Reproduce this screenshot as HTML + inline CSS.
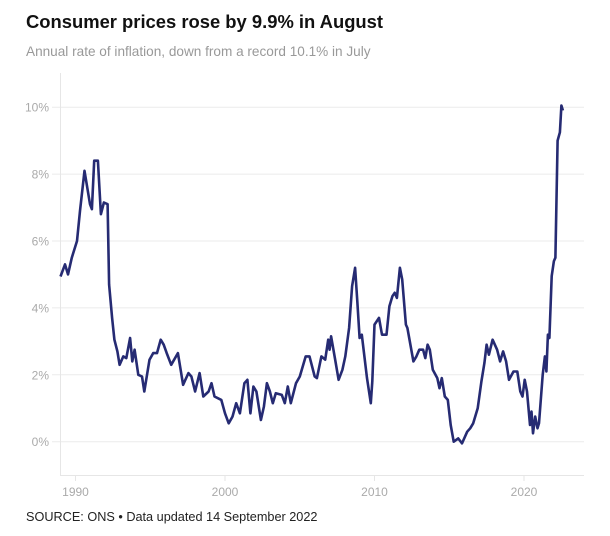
<!DOCTYPE html>
<html><head><meta charset="utf-8"><style>
body{margin:0;background:#fff;font-family:"Liberation Sans",sans-serif;}
#wrap{position:relative;width:610px;height:536px;overflow:hidden;}
</style></head><body>
<div id="wrap">
<svg id="chart" width="610" height="536">
<text x="26" y="28" font-size="18.4" font-weight="bold" fill="#111">Consumer prices rose by 9.9% in August</text>
<text x="26" y="56" font-size="13.6" fill="#999">Annual rate of inflation, down from a record 10.1% in July</text>
<g id="grid"></g>
<g id="xaxis"></g>
<path id="line" fill="none" stroke="#262b73" stroke-width="2.6" stroke-linejoin="round"/>
<text x="26" y="521" font-size="12.7" fill="#222">SOURCE: ONS • Data updated 14 September 2022</text>
</svg>
</div>
<script>
const yTicks = [0,2,4,6,8,10];
const xTicks = [1990,2000,2010,2020];
const years = [1989.0,1989.3,1989.5,1989.75,1990.1,1990.3,1990.6,1990.97,1991.1,1991.25,1991.5,1991.7,1991.9,1992.15,1992.25,1992.45,1992.6,1992.8,1992.95,1993.2,1993.4,1993.65,1993.8,1993.95,1994.2,1994.45,1994.6,1994.95,1995.2,1995.45,1995.7,1995.9,1996.1,1996.4,1996.85,1997.2,1997.55,1997.75,1998.0,1998.3,1998.55,1998.9,1999.1,1999.3,1999.75,2000.0,2000.25,2000.5,2000.75,2001.0,2001.3,2001.5,2001.7,2001.9,2002.1,2002.4,2002.6,2002.8,2003.0,2003.2,2003.4,2003.8,2004.0,2004.2,2004.4,2004.75,2005.0,2005.4,2005.65,2006.0,2006.15,2006.45,2006.7,2006.9,2007.0,2007.1,2007.35,2007.6,2007.85,2008.05,2008.3,2008.5,2008.7,2008.85,2009.0,2009.15,2009.5,2009.75,2009.85,2010.0,2010.3,2010.5,2010.8,2011.0,2011.2,2011.35,2011.5,2011.7,2011.85,2012.1,2012.2,2012.6,2012.8,2013.0,2013.25,2013.4,2013.55,2013.7,2013.9,2014.2,2014.35,2014.5,2014.7,2014.9,2015.1,2015.3,2015.6,2015.85,2016.2,2016.4,2016.6,2016.9,2017.15,2017.35,2017.5,2017.65,2017.9,2018.2,2018.4,2018.6,2018.8,2019.0,2019.3,2019.55,2019.75,2019.9,2020.05,2020.2,2020.4,2020.5,2020.6,2020.75,2020.9,2021.0,2021.25,2021.4,2021.5,2021.6,2021.7,2021.85,2022.0,2022.1,2022.25,2022.4,2022.5,2022.6];
const cpi = [4.94,5.3,5.0,5.5,6.0,6.9,8.1,7.1,6.95,8.4,8.4,6.8,7.15,7.1,4.7,3.7,3.05,2.7,2.3,2.55,2.5,3.1,2.4,2.75,2.0,1.95,1.5,2.45,2.65,2.65,3.05,2.9,2.65,2.3,2.65,1.7,2.05,1.95,1.5,2.05,1.35,1.5,1.75,1.35,1.25,0.85,0.55,0.75,1.15,0.85,1.75,1.85,0.85,1.65,1.5,0.65,1.05,1.75,1.5,1.15,1.45,1.4,1.15,1.65,1.15,1.75,1.95,2.55,2.55,1.95,1.9,2.55,2.45,3.05,2.75,3.15,2.5,1.85,2.15,2.55,3.4,4.65,5.2,4.2,3.1,3.2,1.9,1.15,1.8,3.5,3.7,3.2,3.2,4.05,4.35,4.45,4.3,5.2,4.85,3.5,3.4,2.4,2.55,2.75,2.75,2.5,2.9,2.75,2.15,1.9,1.6,1.9,1.35,1.25,0.5,0.0,0.1,-0.05,0.3,0.4,0.55,1.0,1.8,2.35,2.9,2.6,3.05,2.75,2.4,2.7,2.4,1.85,2.1,2.1,1.5,1.35,1.85,1.5,0.5,0.9,0.25,0.75,0.4,0.55,2.0,2.55,2.1,3.2,3.1,4.95,5.4,5.5,9.0,9.25,10.05,9.9];

function xS(yr){return 75.5+(yr-1990)*14.95;}
function yS(v){return 441.7-v*33.45;}
const NS='http://www.w3.org/2000/svg';
const grid=document.getElementById('grid');
const xa=document.getElementById('xaxis');
yTicks.forEach(t=>{
  const l=document.createElementNS(NS,'line');
  
  
  l.setAttribute('x1',52);l.setAttribute('x2',584);
  l.setAttribute('y1',yS(t));l.setAttribute('y2',yS(t));
  l.setAttribute('stroke','#ebebeb');l.setAttribute('stroke-width','1');
  grid.appendChild(l);
  const tx=document.createElementNS(NS,'text');
  
  
  tx.setAttribute('x',49);tx.setAttribute('y',yS(t)+4.5);
  tx.setAttribute('text-anchor','end');tx.setAttribute('font-size','12');tx.setAttribute('fill','#aaa');
  tx.textContent=t+'%';
  grid.appendChild(tx);
});
const va=document.createElementNS(NS,'line');


va.setAttribute('x1',60.5);va.setAttribute('x2',60.5);va.setAttribute('y1',73);va.setAttribute('y2',475);
va.setAttribute('stroke','#e6e6e6');
xa.appendChild(va);
const ha=document.createElementNS(NS,'line');


ha.setAttribute('x1',60);ha.setAttribute('x2',584);ha.setAttribute('y1',475.5);ha.setAttribute('y2',475.5);
ha.setAttribute('stroke','#e6e6e6');
xa.appendChild(ha);
xTicks.forEach(t=>{
  const l=document.createElementNS(NS,'line');
  
  
  l.setAttribute('x1',xS(t));l.setAttribute('x2',xS(t));l.setAttribute('y1',475);l.setAttribute('y2',481);
  l.setAttribute('stroke','#e6e6e6');
  xa.appendChild(l);
  const tx=document.createElementNS(NS,'text');
  
  
  tx.setAttribute('x',xS(t));tx.setAttribute('y',496);
  tx.setAttribute('text-anchor','middle');tx.setAttribute('font-size','12');tx.setAttribute('fill','#aaa');
  tx.textContent=t;
  xa.appendChild(tx);
});
document.getElementById('line').setAttribute('d',years.map((y,i)=>(i?'L':'M')+xS(y).toFixed(1)+','+yS(cpi[i]).toFixed(1)).join(''));
</script>
</body></html>
